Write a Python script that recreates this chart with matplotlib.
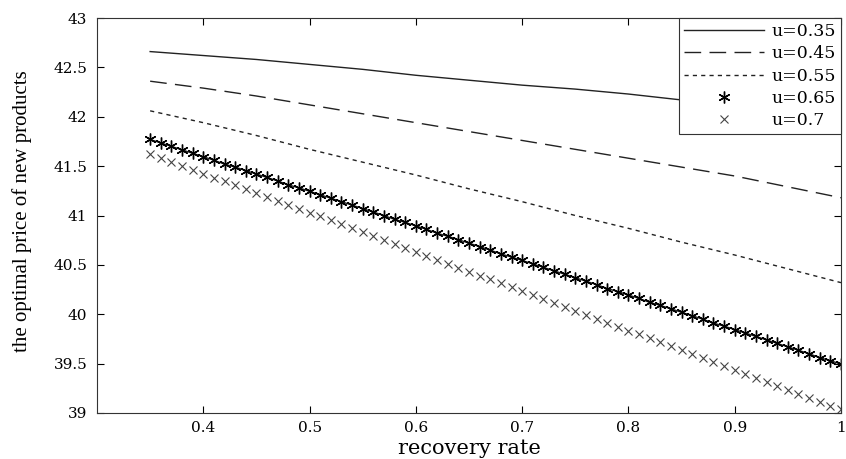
import numpy as np
import matplotlib
matplotlib.use("Agg")
import matplotlib.pyplot as plt

# ---- data ----
x_line = [0.35, 0.40, 0.45, 0.50, 0.55, 0.60, 0.65, 0.70, 0.75, 0.80, 0.85, 0.90, 0.95, 1.00]
u035 = [42.66, 42.62, 42.58, 42.53, 42.48, 42.42, 42.37, 42.32, 42.28, 42.23, 42.17, 42.13, 42.08, 42.03]
u045 = [42.36, 42.29, 42.21, 42.12, 42.03, 41.94, 41.85, 41.76, 41.67, 41.58, 41.49, 41.40, 41.29, 41.18]
u055 = [42.06, 41.94, 41.81, 41.67, 41.54, 41.41, 41.27, 41.14, 41.00, 40.87, 40.73, 40.60, 40.46, 40.32]

x_mark = [round(0.35 + 0.01 * i, 2) for i in range(66)]
u065 = [41.77, 41.735, 41.70, 41.665, 41.63, 41.595, 41.56, 41.52, 41.49, 41.455,
        41.42, 41.385, 41.35, 41.31, 41.28, 41.245, 41.21, 41.175, 41.14, 41.105,
        41.07, 41.035, 41.00, 40.96, 40.93, 40.895, 40.86, 40.82, 40.79, 40.755,
        40.72, 40.685, 40.65, 40.61, 40.58, 40.545, 40.51, 40.475, 40.44, 40.405,
        40.37, 40.335, 40.30, 40.26, 40.23, 40.195, 40.16, 40.12, 40.09, 40.055,
        40.02, 39.985, 39.95, 39.91, 39.88, 39.845, 39.81, 39.775, 39.74, 39.705,
        39.67, 39.635, 39.60, 39.56, 39.53, 39.495]
u070 = [41.62, 41.58, 41.54, 41.50, 41.46, 41.42, 41.38, 41.345, 41.305, 41.265,
        41.225, 41.185, 41.145, 41.105, 41.065, 41.03, 40.99, 40.95, 40.91, 40.87,
        40.83, 40.79, 40.75, 40.71, 40.67, 40.63, 40.59, 40.55, 40.51, 40.47,
        40.43, 40.39, 40.355, 40.315, 40.275, 40.235, 40.195, 40.155, 40.115, 40.075,
        40.035, 39.995, 39.955, 39.915, 39.875, 39.835, 39.795, 39.755, 39.715, 39.675,
        39.635, 39.595, 39.555, 39.515, 39.475, 39.435, 39.395, 39.355, 39.315, 39.275,
        39.235, 39.195, 39.155, 39.115, 39.075, 39.04]

x_ticks = [0.4, 0.5, 0.6, 0.7, 0.8, 0.9, 1]
x_ticklabels = ["0.4", "0.5", "0.6", "0.7", "0.8", "0.9", "1"]
y_ticks = [39, 39.5, 40, 40.5, 41, 41.5, 42, 42.5, 43]
y_ticklabels = ["39", "39.5", "40", "40.5", "41", "41.5", "42", "42.5", "43"]

plt.rcParams['font.family'] = ['DejaVu Serif']

fig = plt.figure(figsize=(8.46, 4.59), dpi=100)
ax = fig.add_axes([97/846, 1-413/459, (841-97)/846, (413-18)/459])

c = '#222222'
ax.plot(x_line, u035, '-', color=c, lw=1.0, label='u=0.35')
ax.plot(x_line, u045, color=c, lw=1.0, dashes=(12, 6), label='u=0.45')
ax.plot(x_line, u055, color=c, lw=1.0, dashes=(3, 3), label='u=0.55')
ax.plot(x_mark, u065, '-', color=c, lw=1.0)
ax.plot(x_mark, u065, linestyle='none', marker=(6, 2, 0), color='black', ms=8.5,
        markeredgewidth=1.0, label='u=0.65')
ax.plot(x_mark, u070, linestyle='none', marker='x', color='#444444', ms=5.5,
        markeredgewidth=0.8, label='u=0.7')

ax.set_xlim(0.3, 1.0)
ax.set_ylim(39, 43)
ax.set_xticks(x_ticks)
ax.set_xticklabels(x_ticklabels)
ax.set_yticks(y_ticks)
ax.set_yticklabels(y_ticklabels)
ax.tick_params(direction='in', top=True, right=True, labelsize=11, length=5, width=0.8)
ax.tick_params(axis='y', pad=7)
ax.tick_params(axis='x', pad=6)
for s in ax.spines.values():
    s.set_linewidth(0.8)
    s.set_color('#333333')

ax.set_xlabel('recovery rate', fontsize=15)
ax.xaxis.set_label_coords(0.5, -(448-413)/395, transform=ax.transAxes)
ax.xaxis.label.set_verticalalignment('center')
ax.set_ylabel('the optimal price of new products', fontsize=15, family='Liberation Serif')
ax.yaxis.set_label_coords(-(97-22)/744, 0.5 + (215.5-211.5)/395)
ax.yaxis.label.set_verticalalignment('center')

leg = ax.legend(loc='upper right', fontsize=12.5, frameon=True, fancybox=False,
                edgecolor='#333333', framealpha=1.0, borderaxespad=0, handlelength=4.6,
                handletextpad=0.4, labelspacing=0.3, borderpad=0.3)
leg.get_frame().set_linewidth(0.8)

fig.savefig('out.png', dpi=100)
